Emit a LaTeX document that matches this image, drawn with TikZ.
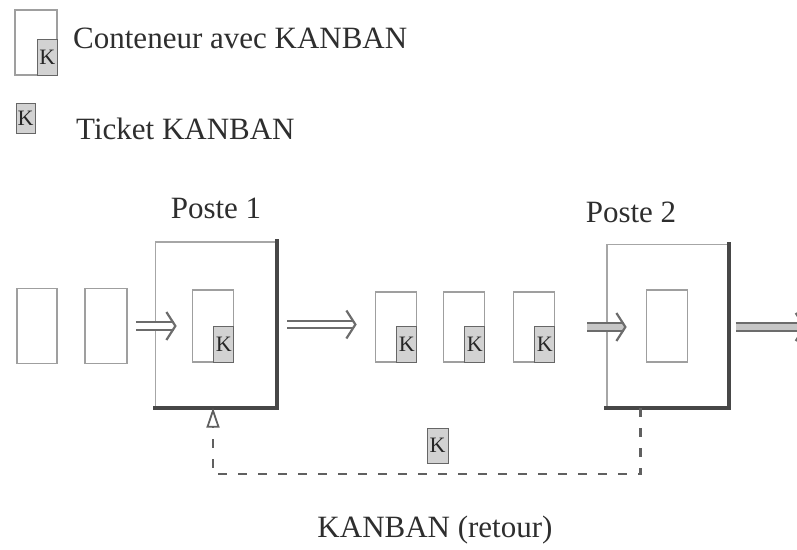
\documentclass[tikz,border=0pt]{standalone}
\usepackage{fontspec}
\setmainfont{Liberation Serif}
\usepackage{xcolor}
\usepackage{tikz}
\usetikzlibrary{arrows.meta,positioning,calc}
\tikzset{
    bac/.style={
        rectangle, draw=gray!75, line width=1.6pt, fill=white,
        minimum width=41pt, minimum height=72pt, inner sep=0pt
    },
    ticket/.style={
        rectangle, draw=gray!80!black, fill=gray!35, line width=1pt,
        minimum width=20pt, minimum height=36pt, inner sep=0pt,
        font=\fontsize{22}{22}\selectfont, text=black!85
    },
    poste/.style={
        rectangle, draw=gray!70, line width=1.4pt,
        minimum width=121pt, minimum height=163pt, inner sep=0pt
    },
    ombre/.style={draw=black!72, line width=4pt, line cap=rect},
    label/.style={font=\fontsize{31}{36}\selectfont, text=black!82, inner sep=0pt},
    flux/.style={
        draw=gray!85!black, double=white, double distance=5.5pt,
        line width=2pt, -{Straight Barb[length=9pt, width=28pt, line width=2.2pt 0 0]}
    },
    fluxgris/.style={flux, double=gray!45},
    retour/.style={
        draw=gray!75!black, line width=2.4pt, dash pattern=on 9pt off 11pt,
        -{Triangle[open, length=20pt, width=13pt, line width=1.8pt]}
    }
}
\begin{document}
\begin{tikzpicture}[x=1pt,y=-1pt]
\useasboundingbox (0,0) rectangle (797,549);

% ---- Legend ----
\node[bac, minimum width=42pt, minimum height=65pt] (leg) at (36,42.5) {};
\node[ticket, anchor=south east] (legk) at (leg.south east) {K};
\node[label, anchor=base west] (legtxt) at (73,48) {Conteneur avec KANBAN};
\node[ticket, minimum width=19pt, minimum height=30pt] (tk) at (25.5,118) {K};
\node[label, anchor=base west] (tktxt) at (76,139) {Ticket KANBAN};

% ---- Poste 1 ----
\node[label, anchor=base] (lp1) at (216,218) {Poste 1};
\node[poste, minimum height=165pt] (p1) at (216,324.5) {};
\draw[ombre] (p1.north east) -- (p1.south east) -- (p1.south west);
\node[bac] (b1) at (213,326) {};
\node[ticket, anchor=south east] (k1) at (b1.south east) {K};

% ---- Stock en amont ----
\node[bac, minimum width=40pt, minimum height=75pt] (a1) at (37,326) {};
\node[bac, minimum width=42pt, minimum height=75pt] (a2) at (106,326) {};

% ---- File d'attente ----
\node[bac, minimum height=70pt] (q1) at (396,327) {};
\node[ticket, anchor=south east] (kq1) at (q1.south east) {K};
\node[bac, minimum height=70pt] (q2) at (464,327) {};
\node[ticket, anchor=south east] (kq2) at (q2.south east) {K};
\node[bac, minimum height=70pt] (q3) at (534,327) {};
\node[ticket, anchor=south east] (kq3) at (q3.south east) {K};

% ---- Poste 2 ----
\node[label, anchor=base] (lp2) at (631,222) {Poste 2};
\node[poste] (p2) at (667.5,326) {};
\draw[ombre] (p2.north east) -- (p2.south east) -- (p2.south west);
\node[bac] (b2) at (667,326) {};
\coordinate (sortie) at (806,327);

% Flux des conteneurs
\draw[flux, shorten <=8pt, shorten >=15pt] (a2.east) -- (b1.west);
\draw[flux, shorten <=10pt, shorten >=18pt] (p1.east) -- (q1.west |- p1.east);
\draw[fluxgris, shorten <=32pt, shorten >=19pt] (q3.east) -- (b2.west |- q3.east);
\draw[fluxgris, shorten <=7pt] (p2.east |- sortie) -- (sortie);

% ---- Retour des KANBAN ----
\draw[retour] ([xshift=-27pt]p2.south) -- ++(0,66) -| ([xshift=-3pt]p1.south);
\node[ticket, minimum width=21pt, minimum height=35pt] (kr) at (437.5,445.5) {K};
\node[label, anchor=base] (lret) at (435,537) {KANBAN (retour)};

\end{tikzpicture}
\end{document}
